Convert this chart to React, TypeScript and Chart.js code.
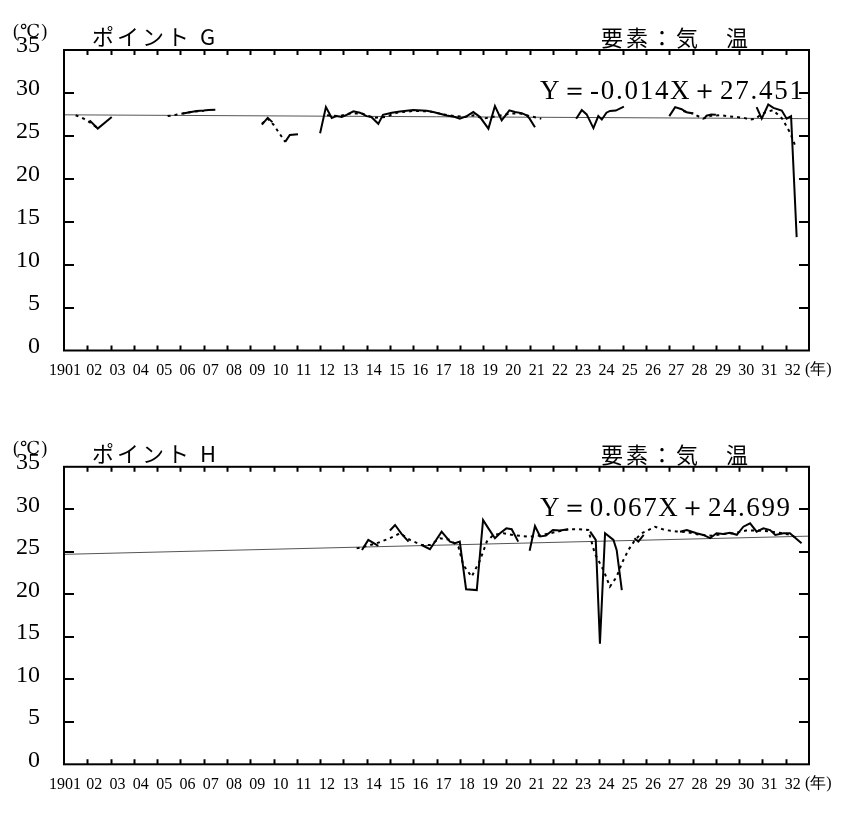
import React, { useEffect, useRef } from "react";
import { Chart, registerables } from "chart.js";

Chart.register(...registerables);

// ---------- tick labels ----------
const yearTickLabels = [
  "1901", "02", "03", "04", "05", "06", "07", "08", "09", "10", "11", "12", "13", "14", "15", "16",
  "17", "18", "19", "20", "21", "22", "23", "24", "25", "26", "27", "28", "29", "30", "31", "32",
];
const yearUnitLabel = "(年)";
const tempUnitLabel = "(℃)";
const elementLabel = "要素：気　温";

// ---------- Point G ----------
const gTitle = "ポイント G";
const gEquation = "Y＝-0.014X＋27.451";
const gTrendSlope = -0.014;
const gTrendIntercept = 27.451;

const gSolidYears = [
  1902.1, 1902.45, 1903.05, 1904.0,
  1906.1, 1906.4, 1906.7, 1907.0, 1907.2, 1907.5, 1908.0,
  1909.5, 1909.75, 1909.95, 1910.2,
  1910.5, 1910.7, 1911.05, 1911.5,
  1912.0, 1912.25, 1912.5, 1912.7, 1912.93, 1913.14, 1913.43, 1913.71, 1914.0, 1914.2, 1914.5, 1914.7,
  1915.08, 1915.43, 1916.0, 1916.58, 1916.86, 1917.15, 1917.44, 1917.8, 1918.0, 1918.3, 1918.58, 1918.87,
  1919.23, 1919.51, 1919.8, 1920.13, 1920.37, 1920.66, 1920.87, 1921.0, 1921.23, 1922.0,
  1923.0, 1923.24, 1923.45, 1923.74, 1923.95, 1924.1, 1924.3, 1924.45, 1924.7, 1925.05, 1926.0,
  1927.0, 1927.25, 1927.53, 1927.74, 1928.03, 1928.3,
  1928.5, 1928.6, 1928.8, 1929.0, 1930.0,
  1930.75, 1930.97, 1931.25, 1931.47, 1931.83, 1932.04, 1932.23, 1932.47,
];
const gSolidTemps = [
  26.8, 25.85, 27.2, null,
  27.6, 27.75, 27.9, 27.95, 28.0, 28.05, null,
  26.3, 27.1, 26.6, null,
  24.3, 25.1, 25.2, null,
  25.3, 28.35, 27.07, 27.3, 27.2, 27.45, 27.85, 27.7, 27.3, 27.2, 26.4, 27.45,
  27.7, 27.85, 28.0, 27.93, 27.77, 27.58, 27.38, 27.19, 27.0, 27.3, 27.77, 27.19,
  25.84, 28.47, 26.8, 27.97, 27.77, 27.65, 27.38, 27.0, 26.0, null,
  27.0, 28.0, 27.5, 25.9, 27.3, 26.9, 27.7, 27.9, 27.95, 28.4, null,
  27.3, 28.35, 28.1, 27.75, 27.6, null,
  27.0, 27.35, 27.5, 27.45, null,
  28.35, 27.0, 28.65, 28.25, 27.95, 27.0, 27.3, 13.2,
];

const gDottedYears = [
  1901.5, 1901.85, 1902.15, 1902.45, 1904.0,
  1905.45, 1905.8, 1906.1, 1906.5, 1907.0, 1908.0,
  1909.5, 1909.75, 1910.0, 1910.25, 1910.5, 1911.5,
  1912.3, 1912.8, 1913.3, 1913.8, 1914.3, 1914.8, 1915.3, 1916.0, 1916.7, 1917.3, 1917.8, 1918.2,
  1918.6, 1919.0, 1919.4, 1919.8, 1920.2, 1920.6, 1921.0, 1921.5, 1922.5,
  1927.6, 1928.0, 1928.45, 1928.8, 1929.2, 1929.5, 1929.85, 1930.2, 1930.47, 1930.7, 1931.0, 1931.45,
  1931.85, 1932.2, 1932.4,
];
const gDottedTemps = [
  27.4, 27.0, 26.5, 25.9, null,
  27.3, 27.45, 27.6, 27.8, 27.9, null,
  26.4, 27.0, 26.3, 25.3, 24.3, null,
  27.4, 27.3, 27.6, 27.6, 27.1, 27.2, 27.7, 27.9, 27.85, 27.5, 27.3, 27.2,
  27.4, 27.0, 27.2, 27.4, 27.6, 27.6, 27.3, 27.0, null,
  27.9, 27.6, 27.0, 27.35, 27.4, 27.3, 27.2, 27.1, 26.9, 27.0, 27.6, 28.0,
  27.0, 25.3, 23.9,
];

// ---------- Point H ----------
const hTitle = "ポイント H";
const hEquation = "Y＝0.067X＋24.699";
const hTrendSlope = 0.067;
const hTrendIntercept = 24.699;

const hSolidYears = [
  1913.8, 1914.07, 1914.5, 1914.75,
  1915.0, 1915.22, 1915.5, 1915.8, 1916.1,
  1916.36, 1916.72, 1917.22, 1917.58, 1917.8, 1918.0, 1918.27, 1918.73, 1919.0, 1919.23, 1919.51,
  1919.73, 1920.0, 1920.23, 1920.51, 1920.8,
  1921.0, 1921.23, 1921.45, 1921.7, 1922.0, 1922.3, 1922.66, 1923.1,
  1923.6, 1923.84, 1924.02, 1924.24, 1924.6, 1924.74, 1924.96, 1925.2,
  1925.5, 1925.67, 1925.9, 1926.5,
  1927.46, 1927.75, 1928.17, 1928.46, 1928.75, 1929.03, 1929.32, 1929.6, 1929.9, 1930.18, 1930.47,
  1930.75, 1931.04, 1931.33, 1931.55, 1931.9, 1932.18, 1932.68,
];
const hSolidTemps = [
  25.2, 26.4, 25.7, null,
  27.5, 28.15, 27.1, 26.2, null,
  25.8, 25.3, 27.37, 26.2, 26.0, 26.2, 20.6, 20.5, 28.74, 27.76, 26.6,
  27.18, 27.76, 27.65, 26.2, null,
  25.13, 28.04, 26.8, 26.9, 27.56, 27.5, 27.65, null,
  27.37, 26.4, 14.2, 27.18, 26.4, 25.2, 20.5, null,
  26.6, 26.2, 27.0, null,
  27.37, 27.56, 27.18, 26.98, 26.6, 27.18, 27.1, 27.25, 27.0, 27.95, 28.35,
  27.37, 27.76, 27.56, 26.98, 27.18, 27.18, 26.0,
];

const hDottedYears = [
  1913.57, 1914.0, 1914.43, 1915.0, 1915.43, 1915.86, 1916.36, 1916.72, 1917.15, 1917.58, 1917.94,
  1918.15, 1918.51, 1918.87, 1919.16, 1919.44, 1919.87, 1920.3, 1920.66, 1921.0, 1921.4, 1921.9,
  1922.4, 1922.7, 1923.1, 1923.52, 1923.8, 1924.17, 1924.45, 1924.74, 1924.96, 1925.24, 1925.53,
  1925.81, 1926.39, 1926.82, 1927.3, 1927.8, 1928.3, 1928.8, 1929.3, 1929.8, 1930.3, 1930.8,
  1931.3, 1931.8, 1932.2, 1932.5,
];
const hDottedTemps = [
  25.4, 25.7, 26.0, 26.6, 27.18, 26.4, 25.8, 25.8, 26.6, 26.4, 25.6,
  23.45, 22.07, 24.0, 26.2, 26.98, 27.18, 26.98, 26.86, 26.78, 26.9, 27.2,
  27.5, 27.65, 27.65, 27.56, 24.8, 22.86, 20.9, 22.07, 23.65, 25.2, 26.4,
  27.18, 27.95, 27.56, 27.4, 27.3, 27.0, 26.9, 27.1, 27.2, 27.5, 27.5,
  27.4, 27.2, 27.0, 26.6,
];

const yearMin = 1901;
const yearMax = 1933;
const tempMin = 0;
const tempMax = 35;
const tempStep = 5;

type PanelProps = {
  top: number;
  height: number;
  areaTop: number;
  areaBottom: number;
  title: string;
  equation: string;
  eqWidth: number;
  slope: number;
  intercept: number;
  solidYears: number[];
  solidTemps: (number | null)[];
  dottedYears: number[];
  dottedTemps: (number | null)[];
};

const SERIF = "'Liberation Serif', 'DejaVu Serif', serif";
const CJK = "'Noto Sans CJK JP', 'Noto Sans', sans-serif";

function Panel(p: PanelProps) {
  const ref = useRef<HTMLCanvasElement>(null);
  useEffect(() => {
    const canvas = ref.current!;
    const solid = p.solidYears.map((x, i) => ({ x, y: p.solidTemps[i] }));
    const dotted = p.dottedYears.map((x, i) => ({ x, y: p.dottedTemps[i] }));
    const trend = [yearMin, yearMax].map((x) => ({ x, y: p.intercept + p.slope * (x - yearMin) }));

    const framePlugin = {
      id: "frame",
      afterDraw(chart: any) {
        const { ctx, chartArea: a } = chart;
        const xs = chart.scales.x;
        const ys = chart.scales.y;
        ctx.save();
        ctx.strokeStyle = "#000";
        ctx.lineWidth = 2;
        ctx.strokeRect(a.left, a.top, a.right - a.left, a.bottom - a.top);
        ctx.beginPath();
        xs.ticks.forEach((t: any, i: number) => {
          if (i === 0 || i === xs.ticks.length - 1) return;
          const px = Math.round(xs.getPixelForValue(t.value)) + 0.5;
          ctx.moveTo(px, a.bottom);
          ctx.lineTo(px, a.bottom - 5);
          ctx.moveTo(px, a.top);
          ctx.lineTo(px, a.top + 5);
        });
        ys.ticks.forEach((t: any, i: number) => {
          if (i === 0 || i === ys.ticks.length - 1) return;
          const py = Math.round(ys.getPixelForValue(t.value));
          ctx.moveTo(a.left, py);
          ctx.lineTo(a.left + 10, py);
          ctx.moveTo(a.right, py);
          ctx.lineTo(a.right - 10, py);
        });
        ctx.stroke();

        ctx.fillStyle = "#000";
        ctx.textBaseline = "alphabetic";
        ctx.textAlign = "left";
        // unit
        ctx.font = `18px ${SERIF}`;
        (ctx as any).letterSpacing = "1px";
        ctx.fillText(tempUnitLabel, 13, a.top - 13);
        // title
        ctx.font = `22px ${CJK}`;
        (ctx as any).letterSpacing = "3px";
        ctx.fillText(p.title, 92, a.top - 5);
        // element
        (ctx as any).letterSpacing = "3px";
        ctx.font = `22px ${CJK}`;
        ctx.fillText(elementLabel, 601, a.top - 4);
        // equation
        ctx.font = `27px ${SERIF}`;
        (ctx as any).letterSpacing = "0px";
        const w = ctx.measureText(p.equation).width;
        const n = Array.from(p.equation).length;
        (ctx as any).letterSpacing = `${(p.eqWidth - w) / (n - 1)}px`;
        ctx.fillText(p.equation, 540, a.top + 49);
        (ctx as any).letterSpacing = "0px";
        // year unit
        ctx.font = `16px ${SERIF}`;
        ctx.textBaseline = "middle";
        ctx.fillText(yearUnitLabel, 805, a.bottom + 19);
        ctx.restore();
      },
    };

    const chart = new Chart(canvas, {
      type: "line",
      data: {
        datasets: [
          { data: solid as any, borderColor: "#000", borderWidth: 2, pointRadius: 0, spanGaps: false, tension: 0 },
          { data: dotted as any, borderColor: "#000", borderWidth: 2, borderDash: [3, 4], pointRadius: 0, spanGaps: false, tension: 0 },
          { data: trend as any, borderColor: "#555", borderWidth: 1, pointRadius: 0, tension: 0 },
        ],
      },
      options: {
        responsive: false,
        animation: false,
        events: [],
        layout: { padding: { left: 0, right: 41, top: p.areaTop, bottom: 0 } },
        plugins: { legend: { display: false }, tooltip: { enabled: false } },
        scales: {
          x: {
            type: "linear",
            min: yearMin,
            max: yearMax,
            grid: { display: false, drawTicks: false },
            border: { display: false },
            ticks: {
              stepSize: 1,
              maxTicksLimit: 100,
              autoSkip: false,
              maxRotation: 0,
              minRotation: 0,
              labelOffset: 7,
              padding: 11,
              color: "#000",
              font: { family: SERIF, size: 16 },
              callback: (v: any) => {
                const i = Math.round(Number(v) - yearMin);
                const s = yearTickLabels[i] ?? "";
                return i === 0 ? s + "\u00a0\u00a0\u00a0" : s;
              },
            },
            afterFit: (s: any) => {
              s.height = p.height - p.areaBottom;
            },
          },
          y: {
            type: "linear",
            min: tempMin,
            max: tempMax,
            grid: { display: false, drawTicks: false },
            border: { display: false },
            ticks: {
              stepSize: tempStep,
              padding: 24,
              labelOffset: -4,
              color: "#000",
              font: { family: SERIF, size: 24 },
            },
            afterFit: (s: any) => {
              s.width = 64;
            },
          },
        },
      },
      plugins: [framePlugin],
    });
    return () => chart.destroy();
  }, []);
  return (
    <canvas
      ref={ref}
      width={850}
      height={p.height}
      style={{ position: "absolute", left: 0, top: p.top, width: 850, height: p.height }}
    />
  );
}

export default function App() {
  return (
    <div style={{ position: "absolute", left: 0, top: 0, width: 850, height: 815, background: "#fff" }}>
      <Panel
        top={0}
        height={408}
        areaTop={50}
        areaBottom={350.5}
        title={gTitle}
        equation={gEquation}
        eqWidth={263}
        slope={gTrendSlope}
        intercept={gTrendIntercept}
        solidYears={gSolidYears}
        solidTemps={gSolidTemps}
        dottedYears={gDottedYears}
        dottedTemps={gDottedTemps}
      />
      <Panel
        top={408}
        height={407}
        areaTop={58.8}
        areaBottom={356.3}
        title={hTitle}
        equation={hEquation}
        eqWidth={250}
        slope={hTrendSlope}
        intercept={hTrendIntercept}
        solidYears={hSolidYears}
        solidTemps={hSolidTemps}
        dottedYears={hDottedYears}
        dottedTemps={hDottedTemps}
      />
    </div>
  );
}
